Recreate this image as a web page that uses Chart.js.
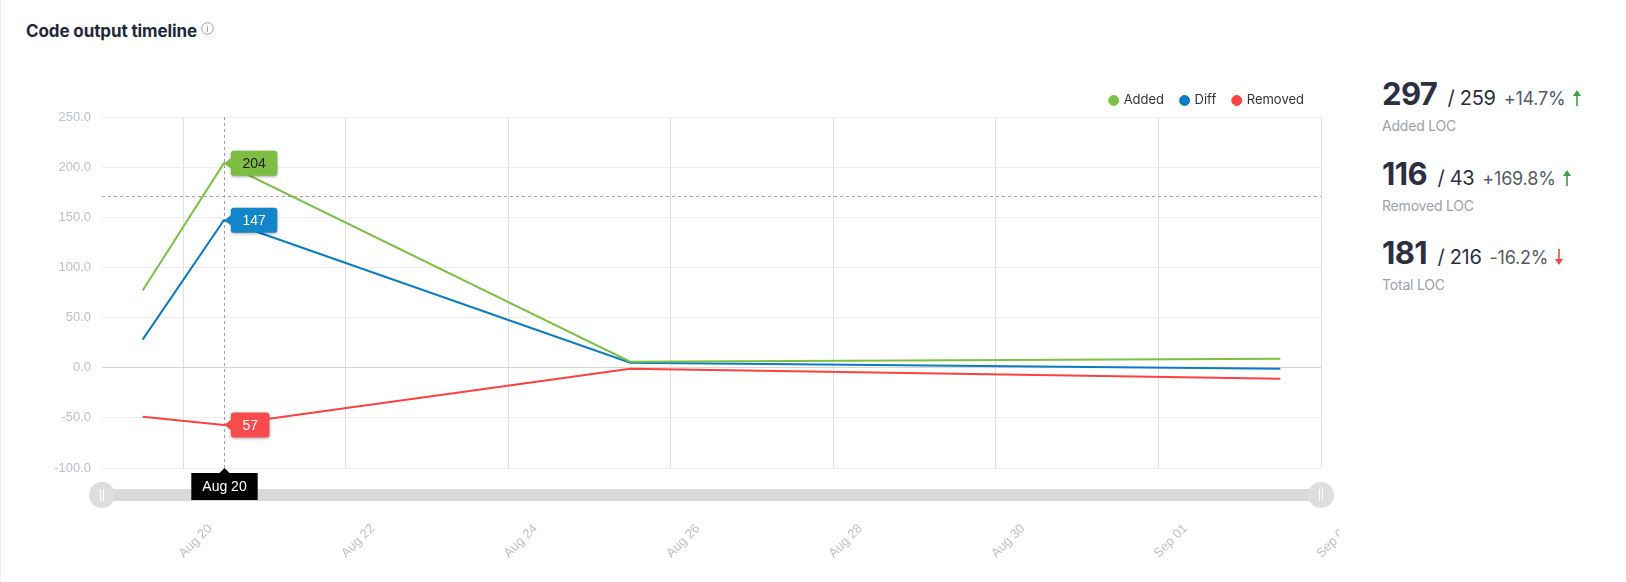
<!DOCTYPE html>
<html>
<head>
<meta charset="utf-8">
<title>Code output timeline</title>
<script src="https://cdn.jsdelivr.net/npm/chart.js@4.4.1/dist/chart.umd.min.js"></script>
<style>
  html, body { margin: 0; padding: 0; background: #fff; }
  body {
    width: 1626px; height: 582px; position: relative; overflow: hidden;
    font-family: Inter, "Noto Sans", sans-serif;
    border-left: 1px solid #ececec; box-sizing: border-box;
  }
  .title {
    position: absolute; left: 25px; top: 21px;
    font-size: 17px; font-weight: 700; color: #1e2839; letter-spacing: -0.1px;
  }
  .title svg { position: absolute; left: 175px; top: 1px; }
  #chartBox { position: absolute; left: 0; top: 77px; width: 1338px; height: 490px; }
  .stats { position: absolute; left: 1381px; top: 0; }
  .stat { position: absolute; left: 0; white-space: nowrap; }
  .stat .line { height: 32px; line-height: 32px; color: #2b2f3f; }
  .stat .big { font-size: 31px; font-weight: 700; color: #2b2f3f; letter-spacing: -0.6px; }
  .stat .prev { font-size: 20px; font-weight: 400; margin-left: 5px; letter-spacing: -0.3px; }
  .stat .pct { font-size: 18px; font-weight: 400; color: #565b66; margin-left: 8px; letter-spacing: -0.2px; }
  .stat svg { margin-left: 7px; vertical-align: -1px; }
  .stat .lbl { font-size: 14px; color: #9ca1ab; margin-top: 7px; letter-spacing: -0.2px; }
</style>
</head>
<body>
<div class="title">Code output timeline
  <svg width="13" height="13" viewBox="0 0 13 13">
    <circle cx="6.5" cy="6.5" r="5.8" fill="none" stroke="#9a9ea6" stroke-width="1"/>
    <rect x="6" y="5.3" width="1" height="4.4" fill="#9a9ea6"/>
    <rect x="6" y="3.3" width="1" height="1.1" fill="#9a9ea6"/>
  </svg>
</div>

<div id="chartBox"><canvas id="timelineChart"></canvas></div>

<div class="stats" id="stats"></div>

<script>
// Points of the timeline (days counted from Aug 19 00:00)
const pointDays = [0.5, 1.5, 6.5, 14.5];
const pointLabels = ["Aug 19", "Aug 20", "Aug 25", "Sep 02"];

// Series values
const addedLoc = [77, 204, 6, 9];
const diffLoc = [28, 147, 5, -1];
const removedLoc = [-49, -57, -1, -11];

// X axis ticks
const tickDays = [1, 3, 5, 7, 9, 11, 13, 15];
const tickLabels = ["Aug 20", "Aug 22", "Aug 24", "Aug 26", "Aug 28", "Aug 30", "Sep 01", "Sep 03"];

// Hover state shown in the picture
const hoverIndex = 1;
const cursorValue = 171;

// Summary cards
const statNames = ["Added LOC", "Removed LOC", "Total LOC"];
const statCurrent = [297, 116, 181];
const statPrevious = [259, 43, 216];
const statChange = ["+14.7%", "+169.8%", "-16.2%"];

const colors = {
  added: "#7cc143",
  diff: "#0a7cc2",
  removed: "#ff4040",
};
const tagColors = ["#7cbd42", "#1286c8", "#f84b4b"];
const tagText = ["#1d1d1d", "#ffffff", "#ffffff"];

function toPoints(values) {
  return values.map((v, i) => ({ x: pointDays[i], y: v }));
}

// Render summary cards
function loadStats() {
  const box = document.getElementById("stats");
  box.innerHTML = statNames
    .map((name, i) => {
      const up = !statChange[i].startsWith("-");
      const arrow = up
        ? `<svg width="8" height="16" viewBox="0 0 8 16"><path d="M4 0 L8 6 L4.8 6 L4.8 16 L3.2 16 L3.2 6 L0 6 Z" fill="#43a047"/></svg>`
        : `<svg width="8" height="16" viewBox="0 0 8 16"><path d="M4 16 L8 10 L4.8 10 L4.8 0 L3.2 0 L3.2 10 L0 10 Z" fill="#f4473f"/></svg>`;
      return `
      <div class="stat" style="top:${78 + i * 79.5}px">
        <div class="line"><span class="big">${statCurrent[i]}</span><span class="prev"> / ${statPrevious[i]}</span><span class="pct">${statChange[i]}</span>${arrow}</div>
        <div class="lbl">${name}</div>
      </div>`;
    })
    .join("");
}

function roundRect(ctx, x, y, w, h, r) {
  ctx.beginPath();
  ctx.moveTo(x + r, y);
  ctx.lineTo(x + w - r, y);
  ctx.quadraticCurveTo(x + w, y, x + w, y + r);
  ctx.lineTo(x + w, y + h - r);
  ctx.quadraticCurveTo(x + w, y + h, x + w - r, y + h);
  ctx.lineTo(x + r, y + h);
  ctx.quadraticCurveTo(x, y + h, x, y + h - r);
  ctx.lineTo(x, y + r);
  ctx.quadraticCurveTo(x, y, x + r, y);
  ctx.closePath();
}

// Crosshair behind the lines
const crosshairPlugin = {
  id: "crosshair",
  beforeDatasetsDraw(chart) {
    const { ctx, chartArea } = chart;
    const xPx = Math.round(chart.getDatasetMeta(0).data[hoverIndex].x) + 0.5;
    const yPx = Math.round(chart.scales.y.getPixelForValue(cursorValue)) + 0.5;
    ctx.save();
    ctx.strokeStyle = "#a0a0a0";
    ctx.lineWidth = 1;
    ctx.setLineDash([3, 3]);
    ctx.beginPath();
    ctx.moveTo(xPx, chartArea.top);
    ctx.lineTo(xPx, chartArea.bottom);
    ctx.moveTo(chartArea.left, yPx);
    ctx.lineTo(chartArea.right, yPx);
    ctx.stroke();
    ctx.restore();
  },
};

// Value tags, slider and date label
const overlayPlugin = {
  id: "overlay",
  afterDraw(chart) {
    const { ctx, chartArea } = chart;

    // slider
    const barTop = chartArea.bottom + 21;
    ctx.save();
    ctx.fillStyle = "#d9d9d9";
    ctx.fillRect(chartArea.left, barTop, chartArea.right - chartArea.left, 12);
    [chartArea.left, chartArea.right].forEach((hx) => {
      ctx.beginPath();
      ctx.arc(hx, barTop + 6, 13, 0, Math.PI * 2);
      ctx.fillStyle = "#dedede";
      ctx.fill();
      ctx.strokeStyle = "#ffffff";
      ctx.lineWidth = 1;
      ctx.beginPath();
      ctx.moveTo(hx - 1.5, barTop);
      ctx.lineTo(hx - 1.5, barTop + 12);
      ctx.moveTo(hx + 1.5, barTop);
      ctx.lineTo(hx + 1.5, barTop + 12);
      ctx.stroke();
    });
    ctx.restore();

    // value tags at hovered point
    ctx.save();
    ctx.font = "14px Arial, 'Liberation Sans', sans-serif";
    ctx.textBaseline = "middle";
    chart.data.datasets.forEach((ds, i) => {
      const pt = chart.getDatasetMeta(i).data[hoverIndex];
      const label = String(Math.abs(ds.data[hoverIndex].y));
      const w = ctx.measureText(label).width + 23;
      const h = 25;
      const left = pt.x + 7;
      const top = pt.y - h / 2;
      ctx.save();
      ctx.shadowColor = "rgba(0,0,0,0.35)";
      ctx.shadowBlur = 3;
      ctx.shadowOffsetY = 1;
      ctx.fillStyle = tagColors[i];
      roundRect(ctx, left, top, w, h, 3);
      ctx.fill();
      ctx.restore();
      ctx.fillStyle = tagColors[i];
      ctx.beginPath();
      ctx.moveTo(pt.x + 0.5, pt.y);
      ctx.lineTo(left + 1, pt.y - 6);
      ctx.lineTo(left + 1, pt.y + 6);
      ctx.closePath();
      ctx.fill();
      ctx.fillStyle = tagText[i];
      ctx.textAlign = "center";
      ctx.fillText(label, left + w / 2, pt.y + 1);
    });
    ctx.restore();

    // date label under the crosshair
    const xPx = Math.round(chart.getDatasetMeta(0).data[hoverIndex].x) + 0.5;
    const boxTop = chartArea.bottom + 5;
    ctx.save();
    ctx.font = "14px Arial, 'Liberation Sans', sans-serif";
    const text = pointLabels[hoverIndex];
    const bw = ctx.measureText(text).width + 22;
    ctx.fillStyle = "#000000";
    ctx.fillRect(xPx - bw / 2, boxTop, bw, 27);
    ctx.beginPath();
    ctx.moveTo(xPx - 5, boxTop);
    ctx.lineTo(xPx, boxTop - 5);
    ctx.lineTo(xPx + 5, boxTop);
    ctx.closePath();
    ctx.fill();
    ctx.fillStyle = "#ffffff";
    ctx.textAlign = "center";
    ctx.textBaseline = "middle";
    ctx.fillText(text, xPx, boxTop + 14);
    ctx.restore();
  },
};

function createTimelineChart() {
  const ctx = document.getElementById("timelineChart").getContext("2d");

  new Chart(ctx, {
    type: "line",
    data: {
      datasets: [
        {
          label: "Added",
          data: toPoints(addedLoc),
          borderColor: colors.added,
          backgroundColor: colors.added,
        },
        {
          label: "Diff",
          data: toPoints(diffLoc),
          borderColor: colors.diff,
          backgroundColor: colors.diff,
        },
        {
          label: "Removed",
          data: toPoints(removedLoc),
          borderColor: colors.removed,
          backgroundColor: colors.removed,
        },
      ],
    },
    options: {
      responsive: true,
      maintainAspectRatio: false,
      animation: false,
      events: [],
      elements: {
        line: { borderWidth: 2, tension: 0 },
        point: { radius: 0 },
      },
      layout: {
        padding: { left: 52, right: 18, top: 0, bottom: 0 },
      },
      plugins: {
        legend: {
          position: "top",
          align: "end",
          maxHeight: 43,
          labels: {
            usePointStyle: true,
            pointStyle: "circle",
            boxWidth: 7,
            boxHeight: 7,
            padding: 17,
            color: "#333333",
            font: { family: "Inter, 'Noto Sans', sans-serif", size: 13 },
          },
        },
        tooltip: { enabled: false },
      },
      scales: {
        x: {
          type: "linear",
          min: 0,
          max: 15,
          afterBuildTicks: (scale) => {
            scale.ticks = tickDays.map((v) => ({ value: v }));
          },
          afterFit: (scale) => {
            scale.height = 99;
            scale.paddingLeft = 0;
            scale.paddingRight = 0;
          },
          border: { display: false },
          grid: { color: "#e0e0e0", drawTicks: false },
          ticks: {
            autoSkip: false,
            minRotation: 45,
            maxRotation: 45,
            padding: 53,
            labelOffset: 27,
            color: "#bcc1ca",
            font: { family: "Arial, 'Liberation Sans', sans-serif", size: 13 },
            callback: (value) => tickLabels[tickDays.indexOf(value)],
          },
        },
        y: {
          min: -100,
          max: 250,
          afterFit: (scale) => {
            scale.width = 49;
            scale.paddingTop = 0;
            scale.paddingBottom = 0;
          },
          border: { display: false },
          grid: {
            drawTicks: false,
            color: (c) => (c.tick && c.tick.value === 0 ? "#d6d6d6" : "#eeeeee"),
          },
          ticks: {
            stepSize: 50,
            padding: 11,
            color: "#bcc1ca",
            font: { family: "Arial, 'Liberation Sans', sans-serif", size: 13 },
            callback: (value) => value.toFixed(1),
          },
        },
      },
    },
    plugins: [crosshairPlugin, overlayPlugin],
  });
}

loadStats();
createTimelineChart();
</script>
</body>
</html>
